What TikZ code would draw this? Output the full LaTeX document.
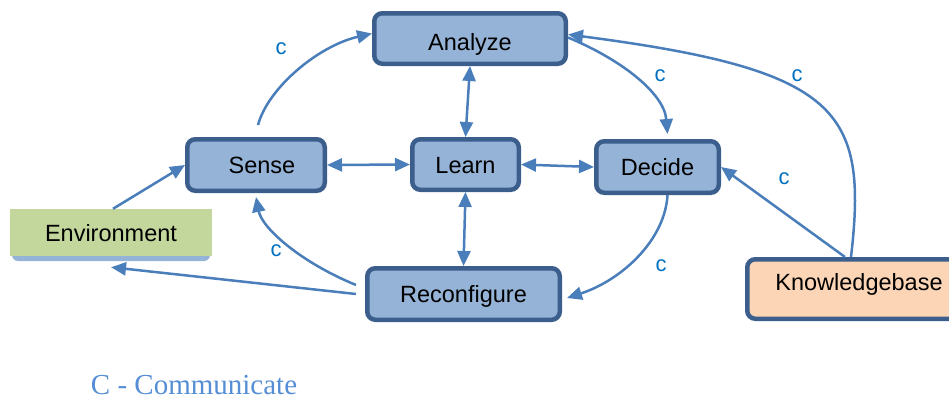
\documentclass[tikz,border=0pt]{standalone}
\usepackage{fontspec}
\setmainfont{Liberation Sans}
\newfontfamily\legendfont{Liberation Serif}
\usetikzlibrary{arrows.meta}
\definecolor{boxfill}{HTML}{95B3D7}
\definecolor{boxline}{HTML}{3B5E8C}
\definecolor{arrowc}{HTML}{4A7EBB}
\definecolor{envfill}{HTML}{C3D69B}
\definecolor{kbfill}{HTML}{FBD5B5}
\definecolor{labc}{HTML}{0070C0}
\definecolor{legc}{HTML}{558ED5}
\tikzset{
  stepbox/.style={draw=boxline, fill=boxfill, line width=4.5pt, rounded corners=8pt,
    font=\fontsize{23.5}{27}\selectfont, inner sep=0pt, text=black,
    text height=17pt, text depth=0pt},
  conn/.style={draw=arrowc, line width=2.5pt, -{Triangle[length=15pt,width=13pt]}},
  dconn/.style={draw=arrowc, line width=2.5pt, {Triangle[length=15pt,width=13pt]}-{Triangle[length=15pt,width=13pt]}},
  clab/.style={text=labc, font=\fontsize{22}{26}\selectfont}
}
\begin{document}
\begin{tikzpicture}[x=1pt,y=-1pt]
\useasboundingbox (0,0) rectangle (949,399);
% nodes
\node[stepbox, minimum width=191.5pt, minimum height=50.5pt] (analyze) at (470,38.5) {\raisebox{-3pt}{Analyze}};
\node[stepbox, minimum width=137.5pt, minimum height=51.5pt] (sense) at (256,165) {\hspace*{12pt}Sense};
\node[stepbox, minimum width=106.5pt, minimum height=50.5pt] (learn) at (465.5,164.5) {Learn};
\node[stepbox, minimum width=122.5pt, minimum height=51.5pt] (decide) at (657.5,167) {Decide};
\node[stepbox, minimum width=192.5pt, minimum height=51.5pt] (reconf) at (463.5,294) {Reconfigure};
\node[stepbox, fill=kbfill, minimum width=223.5pt, minimum height=59.5pt] (kb) at (859,289) {\raisebox{7.5pt}{Knowledgebase}};
\fill[boxfill, rounded corners=6pt] (12,240) rectangle (210,261);
\node[fill=envfill, minimum width=202pt, minimum height=47pt, inner sep=0pt,
  text height=17pt, text depth=0pt,
  font=\fontsize{23.5}{27}\selectfont] (env) at (111,232.5) {Environment};
% connectors
\draw[dconn] (analyze.south) -- (learn.north);
\draw[dconn] (sense.east) -- (learn.west);
\draw[dconn] (learn.east) -- (decide.west);
\draw[dconn] (learn.south) -- (reconf.north);
\draw[conn] ([xshift=2pt,yshift=12pt]sense.north) .. controls (268,88) and (318,46) .. ([yshift=5pt]analyze.west);
\draw[conn] ([yshift=1pt]analyze.east) .. controls (618,58) and (664,92) .. ([xshift=10pt,yshift=5pt]decide.north);
\draw[conn] ([xshift=-8pt]kb.north) .. controls (868,110) and (840,70) .. ([yshift=4pt]analyze.east);
\draw[conn] ([xshift=-14pt]kb.north) -- (decide.east);
\draw[conn] ([xshift=10pt]decide.south) .. controls (665,240) and (622,280) .. ([xshift=5pt,yshift=-4pt]reconf.east);
\draw[conn] ([xshift=-9pt,yshift=9pt]reconf.west) .. controls (300,262) and (262,228) .. ([yshift=-4pt]sense.south);
\draw[conn] ([xshift=-9pt]reconf.west) -- ([yshift=-11pt]env.south);
\draw[conn] ([xshift=2pt]env.north) -- (sense.west);
% labels
\node[clab] (c1) at (281,49) {c};
\node[clab] (c2) at (660,76) {c};
\node[clab] (c3) at (797,76) {c};
\node[clab] (c4) at (784,179) {c};
\node[clab] (c5) at (276,251) {c};
\node[clab] (c6) at (661,266) {c};
\node[text=legc, font=\legendfont\fontsize{29}{33}\selectfont, inner sep=0pt] (legend) at (194,385) {C - Communicate};
\end{tikzpicture}
\end{document}
